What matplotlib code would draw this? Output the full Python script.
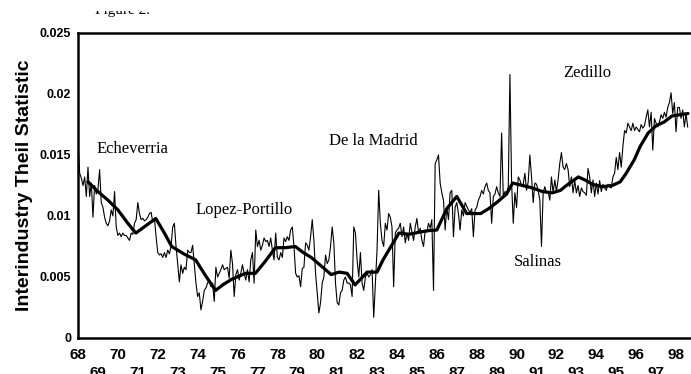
import numpy as np
import matplotlib
matplotlib.use("Agg")
import matplotlib.pyplot as plt
from matplotlib.patches import Rectangle

# monthly interindustry Theil statistic (x 1000), Jan 1968 - Aug 1998
theil_1000 = [
    16.0, 13.5, 13.1, 12.5, 13.2, 11.6, 14.0, 11.6, 12.7, 9.9, 12.5, 11.8,   # 68
    12.2, 13.8, 11.1, 10.7, 9.9, 9.4, 9.2, 9.6, 10.5, 10.0, 12.0, 9.1,       # 69
    8.4, 8.6, 8.3, 8.6, 8.4, 8.4, 8.2, 8.0, 8.6, 8.5, 9.4, 9.7,              # 70
    11.1, 10.2, 9.7, 9.8, 9.6, 9.7, 9.9, 10.2, 10.3, 9.5, 9.8, 8.3,          # 71
    7.0, 6.8, 6.9, 6.6, 7.0, 6.6, 7.2, 6.9, 7.5, 9.1, 9.4, 7.5,              # 72
    6.1, 4.6, 6.0, 5.3, 5.8, 5.6, 7.2, 7.0, 7.0, 7.6, 6.1, 4.5,              # 73
    3.4, 3.7, 2.3, 3.0, 3.9, 4.1, 4.5, 4.75, 4.2, 4.5, 3.0, 5.8,             # 74
    5.0, 5.3, 5.6, 6.0, 5.6, 5.7, 5.8, 4.9, 7.2, 6.1, 3.4, 5.2,              # 75
    5.6, 4.75, 5.3, 6.0, 5.3, 4.75, 5.6, 4.6, 6.4, 7.0, 4.5, 8.85,           # 76
    7.5, 8.0, 7.2, 7.6, 8.2, 7.9, 8.0, 7.5, 8.2, 7.2, 6.4, 8.6,              # 77
    6.6, 6.4, 7.0, 6.6, 8.2, 7.9, 8.3, 8.0, 8.85, 9.1, 7.5, 5.3,             # 78
    5.0, 5.1, 4.2, 5.7, 5.8, 7.8, 7.6, 7.2, 8.3, 9.7, 8.0, 5.3,              # 79
    3.7, 2.05, 2.9, 4.5, 5.0, 6.8, 6.1, 6.4, 7.5, 9.1, 7.8, 4.5,             # 80
    2.9, 2.7, 3.7, 3.9, 4.75, 5.0, 4.5, 4.5, 4.35, 3.4, 9.1, 8.6,            # 81
    6.4, 5.0, 7.0, 4.5, 3.9, 5.0, 5.3, 5.0, 5.2, 5.6, 1.7, 4.5,              # 82
    7.2, 12.1, 9.4, 8.0, 7.5, 9.4, 8.85, 10.2, 9.9, 9.1, 4.2, 8.6,           # 83
    8.85, 9.0, 9.4, 8.3, 9.1, 7.8, 8.6, 8.0, 9.4, 8.7, 8.0, 9.1,             # 84
    9.8, 8.6, 9.0, 8.0, 7.5, 8.85, 8.7, 9.4, 9.0, 9.7, 3.9, 14.3,            # 85
    14.6, 15.0, 12.7, 11.9, 11.3, 8.85, 10.7, 9.7, 11.9, 12.1, 8.3, 10.7,    # 86
    11.1, 10.2, 8.85, 10.5, 10.0, 11.1, 10.8, 10.5, 10.3, 10.6, 8.3, 10.5,   # 87
    10.7, 11.3, 11.6, 12.1, 11.8, 12.4, 12.7, 12.1, 11.9, 9.4, 11.6, 11.8,   # 88
    12.4, 11.9, 11.6, 16.8, 11.6, 12.0, 11.9, 12.4, 21.6, 12.7, 9.4, 11.9,   # 89
    10.7, 13.2, 12.95, 12.4, 12.6, 13.5, 12.1, 12.8, 15.0, 13.2, 11.1, 12.7, # 90
    12.6, 12.1, 11.3, 7.5, 11.9, 12.4, 11.9, 12.0, 11.3, 13.2, 11.9, 12.95,  # 91
    12.0, 13.0, 14.3, 15.2, 14.0, 13.8, 14.3, 13.8, 12.4, 13.2, 11.9, 12.9,  # 92
    11.9, 12.5, 11.6, 12.3, 12.0, 11.9, 11.7, 13.9, 13.2, 11.9, 12.95, 11.6, # 93
    12.7, 11.8, 12.9, 12.0, 12.6, 12.3, 12.1, 12.6, 12.4, 12.3, 13.2, 13.5,  # 94
    14.8, 13.8, 15.2, 14.0, 15.7, 17.0, 16.8, 17.6, 17.3, 17.0, 17.6, 17.0,  # 95
    17.3, 17.1, 16.9, 17.5, 17.2, 17.4, 18.1, 18.7, 17.3, 18.5, 15.4, 18.0,  # 96
    17.6, 17.3, 17.7, 18.3, 18.0, 18.5, 18.1, 18.9, 19.3, 20.1, 18.4, 19.3,  # 97
    16.9, 18.9, 18.9, 18.0, 18.7, 17.3, 18.4, 17.3,                          # 98
]

# smoothed (moving average) line
smooth_year = [68.5, 69.0, 69.5, 70.0, 70.5, 70.9, 71.4, 71.9, 72.3, 72.7,
               73.3, 73.9, 74.4, 74.9, 75.3, 75.7, 76.4, 76.9, 77.4, 77.9,
               78.4, 78.9, 79.3, 79.7, 80.2, 80.7, 81.1, 81.5, 81.9, 82.5,
               83.0, 83.3, 84.1, 84.6, 85.2, 85.6, 86.0, 86.5, 87.0, 87.5,
               88.2, 88.6, 89.0, 89.5, 89.8, 90.3, 90.8, 91.3, 91.8, 92.2,
               92.5, 93.1, 93.5, 93.8, 94.3, 94.8, 95.2, 95.5, 95.9, 96.2,
               96.6, 97.0, 97.4, 97.8, 98.2, 98.6]
smooth_1000 = [12.8, 12.0, 11.3, 10.5, 9.4, 8.6, 9.2, 9.8, 8.7, 7.5,
               6.9, 6.4, 5.1, 3.9, 4.4, 4.8, 5.3, 5.3, 6.3, 7.4,
               7.4, 7.5, 7.0, 6.6, 5.9, 5.2, 5.4, 5.3, 4.35, 5.4,
               5.4, 6.4, 8.6, 8.5, 8.7, 8.8, 8.85, 10.6, 11.6, 10.2,
               10.2, 10.6, 11.1, 11.8, 12.7, 12.5, 12.3, 12.0, 11.9, 12.1,
               12.5, 13.2, 12.9, 12.6, 12.4, 12.5, 12.8, 13.5, 14.6, 15.7,
               16.8, 17.4, 17.7, 18.2, 18.3, 18.4]

year_ticks = list(range(68, 99))
y_ticks = [0, 0.005, 0.01, 0.015, 0.02, 0.025]
y_labels = ['0', '0.005', '0.01', '0.015', '0.02', '0.025']

# presidential terms: (label, year, value)
terms = [
    ('Echeverria', 68.95, 0.0152),
    ('Lopez-Portillo', 73.87, 0.0102),
    ('De la Madrid', 80.6, 0.0158),
    ('Salinas', 89.88, 0.0059),
    ('Zedillo', 92.33, 0.0214),
]

theil = np.array(theil_1000) / 1000.0
months = 68 + np.arange(len(theil)) / 12.0
smooth = np.array(smooth_1000) / 1000.0

fig = plt.figure(figsize=(6.91, 3.74), dpi=100)
ax = fig.add_axes([0.1129, 0.0963, 0.8871, 0.8155])

ax.plot(months, theil, color='black', lw=0.8)
ax.plot(smooth_year, smooth, color='black', lw=2.3,
        solid_joinstyle='round', solid_capstyle='round')

ax.set_xlim(68, 98.75)
ax.set_ylim(0, 0.025)

for s in ['left', 'top', 'bottom']:
    ax.spines[s].set_linewidth(1.8)
ax.spines['right'].set_visible(False)

sans = 'Liberation Sans'
serif = 'Liberation Serif'

even = [y for y in year_ticks if y % 2 == 0]
odd = [y for y in year_ticks if y % 2 == 1]
ax.set_xticks(even)
ax.set_xticklabels([str(y) for y in even], fontsize=11, fontweight='bold', family=sans)
ax.set_xticks(odd, minor=True)
ax.set_xticklabels([str(y) for y in odd], minor=True, fontsize=11, fontweight='bold', family=sans)
ax.tick_params(axis='x', which='major', length=0, pad=7)
ax.tick_params(axis='x', which='minor', length=0, pad=20)

ax.set_yticks(y_ticks)
ax.set_yticklabels(y_labels, fontsize=9, fontweight='bold', family=sans)
ax.tick_params(axis='y', length=0, pad=5)

ax.set_ylabel('Interindustry Theil Statistic', fontsize=14, fontweight='bold', family=sans, labelpad=5)

for name, yr, val in terms:
    ax.text(yr, val, name, fontsize=12, family=serif, ha='left', va='baseline')

# title, partly cut off at the top edge as in the scan
fig.text(0.177, 0.9626, 'Figure 2.', fontsize=11, family=serif, ha='center', va='baseline')
fig.patches.append(Rectangle((0, 0.9706), 1, 0.04, transform=fig.transFigure,
                             facecolor='white', edgecolor='none', zorder=10))

fig.savefig('out.png', dpi=100)
